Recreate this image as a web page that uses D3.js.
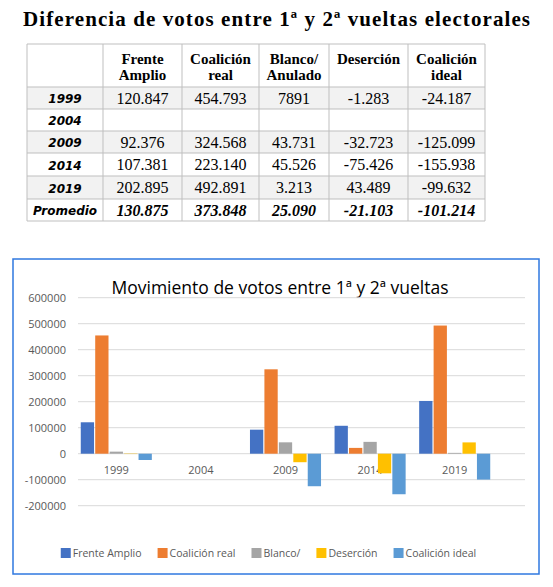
<!DOCTYPE html>
<html>
<head>
<meta charset="utf-8">
<script src="https://cdn.jsdelivr.net/npm/d3@7"></script>
<style>
  body { margin: 0; background: #fff; }
  svg { display: block; }
</style>
</head>
<body>
<svg id="chart" width="553" height="587"></svg>
<script>
// --- data ---
var years = ["1999", "2004", "2009", "2014", "2019"];
var seriesNames = ["Frente Amplio", "Coalición real", "Blanco/", "Deserción", "Coalición ideal"];
var seriesColors = ["#4472C4", "#ED7D31", "#A5A5A5", "#FFC000", "#5B9BD5"];

// table text (as printed, with . as thousands separator)
var tableHeaders = [["Frente", "Amplio"], ["Coalición", "real"], ["Blanco/", "Anulado"], ["Deserción"], ["Coalición", "ideal"]];
var tableRowLabels = ["1999", "2004", "2009", "2014", "2019"];
var tableValues = [
    ["120.847", "454.793", "7891", "-1.283", "-24.187"],
    ["", "", "", "", ""],
    ["92.376", "324.568", "43.731", "-32.723", "-125.099"],
    ["107.381", "223.140", "45.526", "-75.426", "-155.938"],
    ["202.895", "492.891", "3.213", "43.489", "-99.632"]
];
var promedioLabel = "Promedio";
var promedioValues = ["130.875", "373.848", "25.090", "-21.103", "-101.214"];

// chart values (as drawn in the bar chart)
var frenteAmplio   = [120847, null, 92376, 107381, 202895];
var coalicionReal  = [454793, null, 324568, 22314, 492891];
var blancoAnulado  = [7891, null, 43731, 45526, 3213];
var desercion      = [-1283, null, -32723, -75426, 43489];
var coalicionIdeal = [-24187, null, -125099, -155938, -99632];
var yTicks = [-200000, -100000, 0, 100000, 200000, 300000, 400000, 500000, 600000];

var seriesValues = [frenteAmplio, coalicionReal, blancoAnulado, desercion, coalicionIdeal];

var svg = d3.select('#chart');
svg.append('rect').attr('width', 553).attr('height', 587).attr('fill', '#fff');

// --- title ---
svg.append('text')
    .attr('x', 23).attr('y', 26)
    .attr('textLength', 507).attr('lengthAdjust', 'spacing')
    .style('font-family', '"Liberation Serif", serif')
    .style('font-weight', 'bold')
    .style('font-size', '21px')
    .text('Diferencia de votos entre 1ª y 2ª vueltas electorales');

// --- table ---
var colX = [27, 103, 182, 259, 329, 408, 485];
var rowY = [44, 87, 109, 131, 153, 176, 199, 221];
var tableG = svg.append('g');

// shaded rows (1999, 2009, 2019)
[1, 3, 5].forEach(function (r) {
    tableG.append('rect')
        .attr('x', colX[0]).attr('y', rowY[r])
        .attr('width', colX[6] - colX[0]).attr('height', rowY[r + 1] - rowY[r])
        .attr('fill', '#f2f2f2');
});

// grid lines
rowY.forEach(function (y) {
    tableG.append('line').attr('x1', colX[0]).attr('x2', colX[6]).attr('y1', y).attr('y2', y)
        .attr('stroke', '#bfbfbf').attr('stroke-width', 1);
});
colX.forEach(function (x) {
    tableG.append('line').attr('x1', x).attr('x2', x).attr('y1', rowY[0]).attr('y2', rowY[7])
        .attr('stroke', '#bfbfbf').attr('stroke-width', 1);
});

function colCenter(i) { return (colX[i] + colX[i + 1]) / 2; }

// header
tableHeaders.forEach(function (lines, i) {
    lines.forEach(function (t, j) {
        tableG.append('text')
            .attr('x', colCenter(i + 1)).attr('y', 64 + j * 16)
            .attr('text-anchor', 'middle')
            .style('font-family', '"Liberation Serif", serif')
            .style('font-weight', 'bold')
            .style('font-size', '15px')
            .text(t);
    });
});

// body rows
var allRows = tableRowLabels.map(function (l, i) { return { label: l, vals: tableValues[i], bold: false }; });
allRows.push({ label: promedioLabel, vals: promedioValues, bold: true });

allRows.forEach(function (row, r) {
    var yMid = (rowY[r + 1] + rowY[r + 2]) / 2;
    tableG.append('text')
        .attr('x', colCenter(0)).attr('y', yMid + 5)
        .attr('text-anchor', 'middle')
        .style('font-family', '"DejaVu Sans", sans-serif')
        .style('font-weight', 'bold')
        .style('font-style', 'italic')
        .style('font-size', '12px')
        .text(row.label);
    row.vals.forEach(function (v, c) {
        tableG.append('text')
            .attr('x', colCenter(c + 1)).attr('y', yMid + 5.5)
            .attr('text-anchor', 'middle')
            .style('font-family', '"Liberation Serif", serif')
            .style('font-weight', row.bold ? 'bold' : 'normal')
            .style('font-style', row.bold ? 'italic' : 'normal')
            .style('font-size', '16px')
            .text(v);
    });
});

// --- bar chart ---
svg.append('rect')
    .attr('x', 13).attr('y', 259).attr('width', 526).attr('height', 315)
    .attr('fill', '#fff').attr('stroke', '#2f78e0').attr('stroke-width', 1.5);

svg.append('text')
    .attr('x', 280).attr('y', 294)
    .attr('text-anchor', 'middle')
    .style('font-family', '"Open Sans", sans-serif')
    .style('font-size', '17.5px')
    .attr('fill', '#000')
    .text('Movimiento de votos entre 1ª y 2ª  vueltas');

var y = d3.scaleLinear().domain([-200000, 600000]).range([505.7, 297.7]);
var x0 = d3.scaleBand().domain(years).range([74, 497]).paddingInner(0.16).paddingOuter(0.08);
var x1 = d3.scaleBand().domain(d3.range(seriesNames.length)).range([0, x0.bandwidth()]).paddingInner(0.08);

var gridG = svg.append('g');
gridG.selectAll('line').data(yTicks).enter().append('line')
    .attr('x1', 78).attr('x2', 525)
    .attr('y1', function (d) { return y(d); }).attr('y2', function (d) { return y(d); })
    .attr('stroke', '#d9d9d9').attr('stroke-width', 1);

gridG.selectAll('text').data(yTicks).enter().append('text')
    .attr('x', 66).attr('y', function (d) { return y(d) + 4; })
    .attr('text-anchor', 'end')
    .style('font-family', '"Open Sans", sans-serif')
    .style('font-size', '11px')
    .attr('fill', '#595959')
    .text(function (d) { return d; });

// category labels (drawn under the bars)
svg.append('g').selectAll('text').data(years).enter().append('text')
    .attr('x', function (d) { return x0(d) + x0.bandwidth() / 2; })
    .attr('y', y(0) + 20)
    .attr('text-anchor', 'middle')
    .style('font-family', '"Open Sans", sans-serif')
    .style('font-size', '11px')
    .attr('fill', '#595959')
    .text(function (d) { return d; });

var bars = [];
years.forEach(function (yr, i) {
    seriesValues.forEach(function (s, k) {
        if (s[i] !== null) bars.push({ year: yr, k: k, v: s[i] });
    });
});

svg.append('g').selectAll('rect').data(bars).enter().append('rect')
    .attr('x', function (d) { return x0(d.year) + x1(d.k); })
    .attr('width', x1.bandwidth())
    .attr('y', function (d) { return Math.min(y(d.v), y(0)); })
    .attr('height', function (d) { return Math.abs(y(d.v) - y(0)); })
    .attr('fill', function (d) { return seriesColors[d.k]; });

// legend
var legG = svg.append('g');
var lx = 0;
seriesNames.forEach(function (name, k) {
    var g = legG.append('g').attr('transform', 'translate(' + lx + ',0)');
    g.append('rect').attr('x', 0).attr('y', -5).attr('width', 10).attr('height', 10)
        .attr('fill', seriesColors[k]);
    var t = g.append('text').attr('x', 12).attr('y', 4)
        .style('font-family', '"Open Sans", sans-serif')
        .style('font-size', '10.5px')
        .attr('fill', '#595959')
        .text(name);
    lx += 12 + t.node().getComputedTextLength() + 16;
});
var legW = lx - 16;
legG.attr('transform', 'translate(' + (268.5 - legW / 2) + ',553)');
</script>
</body>
</html>
